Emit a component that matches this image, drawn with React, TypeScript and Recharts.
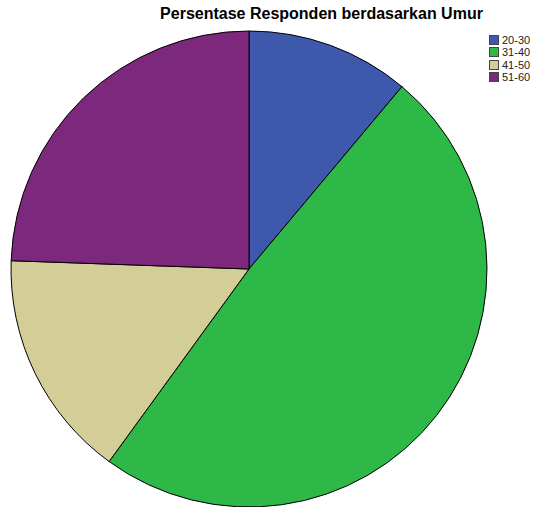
import React from "react";
import { PieChart, Pie, Cell } from "recharts";

const categories = ["20-30", "31-40", "41-50", "51-60"];
const counts = [5, 22, 7, 11];
const colors = ["#3E58AC", "#2EB848", "#D3CE97", "#7C287D"];

const data = categories.map((name, i) => ({ name, value: counts[i] }));

export default function App() {
  return (
    <div style={{ position: "absolute", left: 0, top: 0, width: 535, height: 507, background: "#fff", fontFamily: "'Liberation Sans', Arial, sans-serif" }}>
      <div style={{ position: "absolute", left: 0, width: 535, top: 5, textAlign: "center", paddingLeft: 108, boxSizing: "border-box", fontWeight: "bold", fontSize: 16, color: "#000" }}>
        Persentase Responden berdasarkan Umur
      </div>
      <PieChart width={535} height={507} margin={{ top: 0, right: 0, bottom: 0, left: 0 }} style={{ position: "absolute", left: 0, top: 0 }}>
        <Pie
          data={data}
          dataKey="value"
          nameKey="name"
          cx={249}
          cy={269}
          outerRadius={238}
          innerRadius={0}
          startAngle={90}
          endAngle={-270}
          stroke="#000"
          strokeWidth={1}
          isAnimationActive={false}
          labelLine={false}
        >
          {data.map((d, i) => (
            <Cell key={d.name} fill={colors[i]} />
          ))}
        </Pie>
      </PieChart>
      <div style={{ position: "absolute", left: 489, top: 34 }}>
        {data.map((d, i) => (
          <div key={d.name} style={{ display: "flex", alignItems: "center", height: 12.3, fontSize: 11, color: "#222" }}>
            <span style={{ display: "inline-block", width: 8, height: 8, background: colors[i], border: "1px solid #444", marginRight: 3 }} />
            {d.name}
          </div>
        ))}
      </div>
    </div>
  );
}
